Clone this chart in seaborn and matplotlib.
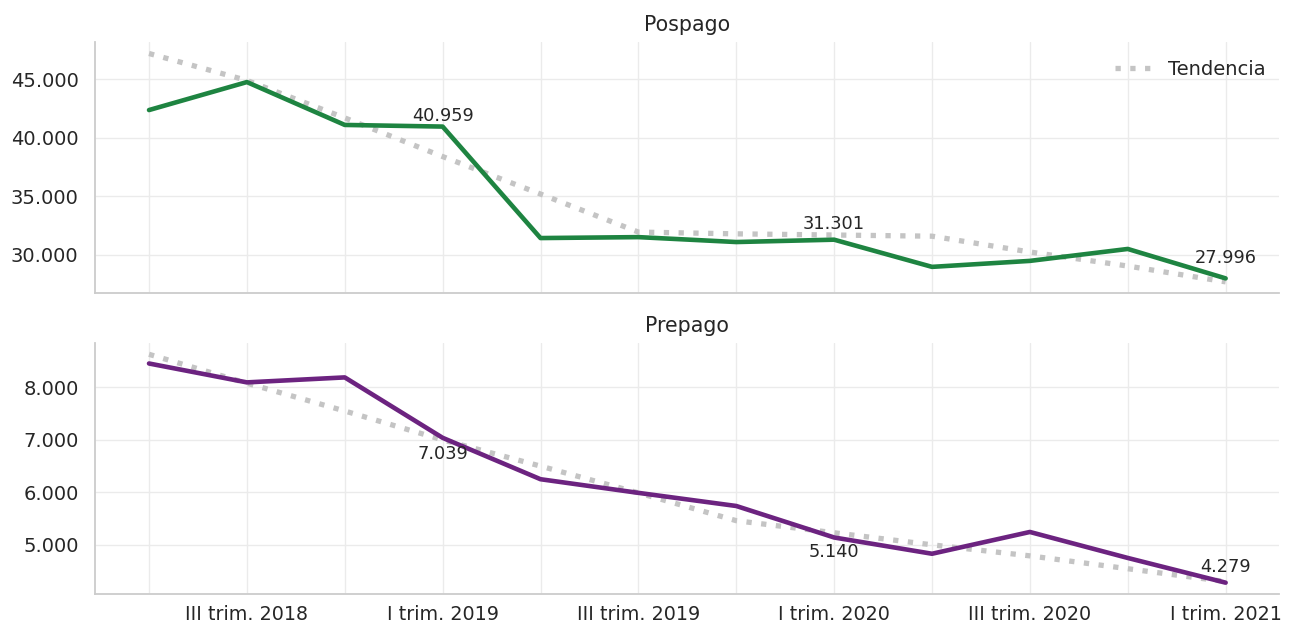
import numpy as np
import pandas as pd
import matplotlib
matplotlib.use("Agg")
import matplotlib.pyplot as plt
import seaborn as sns
from matplotlib.ticker import FuncFormatter

# Quarterly series
quarters = ["II trim. 2018", "III trim. 2018", "IV trim. 2018",
            "I trim. 2019", "II trim. 2019", "III trim. 2019", "IV trim. 2019",
            "I trim. 2020", "II trim. 2020", "III trim. 2020", "IV trim. 2020",
            "I trim. 2021"]

pospago = [42370, 44760, 41100, 40959, 31440, 31520, 31100, 31301,
           28980, 29490, 30510, 27996]
pospago_trend = [47200, 44900, 41700, 38400, 35200, 31950, 31800, 31700,
                 31600, 30250, 29050, 27700]

prepago = [8455, 8095, 8190, 7039, 6250, 5990, 5740, 5140,
           4830, 5245, 4750, 4279]
prepago_trend = [8630, 8080, 7550, 7000, 6500, 5990, 5460, 5230,
                 5000, 4790, 4545, 4300]

# Labelled points: (index, offset in points, vertical alignment)
pos_labels = [(3, 1, "bottom"), (7, 5, "bottom"), (11, 8, "bottom")]
pre_labels = [(3, -5, "top"), (7, -4, "top"), (11, 5, "bottom")]

sns.set_theme(style="whitegrid")
plt.rcParams["font.family"] = ["DejaVu Sans"]

GREEN = "#1e8441"
PURPLE = "#6c2380"
TREND = "#c4c4c4"
TEXT = "#262626"

idx = np.arange(len(quarters))


def fmt_thousands(v, _pos=None):
    return f"{v:,.0f}".replace(",", ".")


fig = plt.figure(figsize=(12.95, 6.28), dpi=100)
ax1 = fig.add_axes([0.0735, 0.533, 0.9145, 0.400])
ax2 = fig.add_axes([0.0735, 0.054, 0.9145, 0.400], sharex=ax1)

panels = [
    (ax1, "Pospago", pospago, pospago_trend, GREEN, pos_labels, True),
    (ax2, "Prepago", prepago, prepago_trend, PURPLE, pre_labels, False),
]

for ax, title, values, trend, color, labels, show_legend in panels:
    df = pd.DataFrame({"x": idx, "valor": values, "tendencia": trend})
    sns.lineplot(data=df, x="x", y="tendencia", ax=ax, color=TREND,
                 linewidth=3.8, label="Tendencia", legend=False)
    ax.lines[-1].set_dashes((1, 1.8))
    ax.lines[-1].set_dash_capstyle("butt")
    sns.lineplot(data=df, x="x", y="valor", ax=ax, color=color,
                 linewidth=3.3, legend=False)
    ax.lines[-1].set_solid_capstyle("round")

    for i, off, va in labels:
        ax.annotate(fmt_thousands(values[i]), (idx[i], values[i]),
                    xytext=(0, off), textcoords="offset points",
                    ha="center", va=va, fontsize=12.8, color=TEXT)

    ax.set_title(title, fontsize=14.8, color=TEXT, pad=8)
    ax.set_xlabel("")
    ax.set_ylabel("")
    ax.yaxis.set_major_formatter(FuncFormatter(fmt_thousands))
    ax.tick_params(axis="y", length=0, labelsize=14, colors=TEXT, pad=12)
    ax.tick_params(axis="x", length=0, labelsize=13.8, colors=TEXT, pad=8)
    ax.grid(True, color="#ebebeb", linewidth=1)
    for side in ("top", "right"):
        ax.spines[side].set_visible(False)
    for side in ("left", "bottom"):
        ax.spines[side].set_color("#cccccc")
        ax.spines[side].set_linewidth(1.3)

    if show_legend:
        leg = ax.legend(loc="upper right", frameon=False, fontsize=14,
                        handlelength=1.8, handletextpad=0.9,
                        bbox_to_anchor=(1.003, 1.0))
        for t in leg.get_texts():
            t.set_color(TEXT)

ax1.set_yticks([30000, 35000, 40000, 45000])
ax2.set_yticks([5000, 6000, 7000, 8000])

ax2.set_xticks(idx)
ax2.set_xticklabels([q if i % 2 == 1 else "" for i, q in enumerate(quarters)])
ax2.set_xlim(-0.55, len(quarters) - 0.45)
plt.setp(ax1.get_xticklabels(), visible=False)

fig.savefig("out.png", dpi=100, facecolor="white")
